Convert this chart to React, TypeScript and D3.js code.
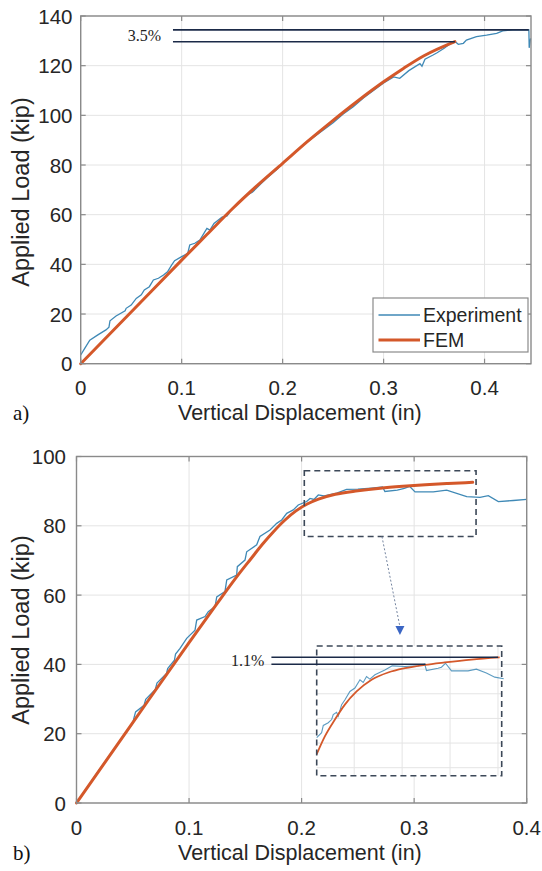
import React from 'react';
import * as d3 from 'd3';

type P = [number, number];

// ---------- ticks ----------
const xTicksA = [0, 0.1, 0.2, 0.3, 0.4];
const yTicksA = [0, 20, 40, 60, 80, 100, 120, 140];
const xTicksB = [0, 0.1, 0.2, 0.3, 0.4];
const yTicksB = [0, 20, 40, 60, 80, 100];
const insetXTicks = [0.22, 0.26, 0.3, 0.34];
const insetYTicks = [84, 86, 88, 90, 92];

// ---------- chart a) ----------
const expA: P[] = [
  [0, 3.5], [0.004, 6.2], [0.009, 9.5], [0.017, 11.6], [0.025, 13.6], [0.028, 14.7], [0.029, 17.3],
  [0.035, 19.2], [0.044, 21.3], [0.045, 22.3], [0.05, 23.6], [0.055, 26.3], [0.06, 27.7], [0.063, 29.7],
  [0.068, 31], [0.072, 33.7], [0.077, 34.4], [0.082, 35.7], [0.086, 37], [0.09, 39.7], [0.093, 41.5],
  [0.1, 43.1], [0.106, 44.4], [0.108, 47.8], [0.113, 48.5], [0.118, 49.8], [0.125, 54.5], [0.128, 53.8],
  [0.132, 56.5], [0.14, 59], [0.145, 59.5], [0.15, 62.5], [0.157, 65], [0.165, 68], [0.17, 69],
  [0.18, 73], [0.185, 75], [0.195, 78.5], [0.2, 80.7], [0.21, 84.2], [0.22, 88], [0.225, 89.5],
  [0.235, 92.5], [0.245, 95.5], [0.25, 97], [0.26, 100.5], [0.27, 103.5], [0.28, 107], [0.29, 110],
  [0.3, 113], [0.31, 115.5], [0.316, 114.9], [0.325, 118], [0.336, 120.8], [0.338, 119.8], [0.341, 122.6],
  [0.349, 124.3], [0.353, 125.2], [0.36, 127], [0.366, 128.8], [0.371, 129.6], [0.374, 128.6], [0.379, 129],
  [0.382, 130.3], [0.392, 131.7], [0.402, 132.3], [0.412, 133], [0.418, 134], [0.428, 134.4],
  [0.4439, 134.4], [0.4442, 127.2], [0.4456, 131],
];
const femA: P[] = [
  [0, 0], [0.05, 20.8], [0.1, 41.7], [0.125, 52], [0.15, 62.3], [0.175, 71.8], [0.2, 80.7],
  [0.225, 89.6], [0.25, 98], [0.275, 106], [0.3, 113.5], [0.32, 119], [0.34, 124], [0.3706, 129.7],
];
const annotAY = [134.4, 129.65];
const annotAXEnd = [0.4438, 0.3706];
const annotAXStart = 0.0914;
const annotALabel = '3.5%';
const legendLabels = ['Experiment', 'FEM'];

// ---------- chart b) ----------
const expB: P[] = [
  [0, 0], [0.02, 9.5], [0.03, 14], [0.04, 18.5], [0.05, 23], [0.051, 24.5], [0.0525, 26.3], [0.06, 28.2],
  [0.0615, 29.9], [0.07, 32.8], [0.0715, 34.6], [0.08, 37.4], [0.081, 38.8], [0.087, 41.2], [0.088, 43],
  [0.092, 44.6], [0.0979, 47.5], [0.1053, 49.9], [0.1068, 52.8], [0.1142, 53.8], [0.1171, 55.2],
  [0.1231, 56.7], [0.1246, 59.5], [0.1319, 61], [0.1335, 64.4], [0.1423, 65.8], [0.1429, 68.2],
  [0.1497, 70.1], [0.1512, 72.5], [0.1601, 74.5], [0.163, 76.9], [0.1719, 78.8], [0.1779, 80.7],
  [0.1823, 81.7], [0.1868, 83.6], [0.1926, 84.6], [0.197, 86], [0.2045, 87], [0.2075, 87.9],
  [0.211, 87.6], [0.2148, 88.9], [0.22, 88.6], [0.2312, 89.4], [0.24, 90.5], [0.25, 90.6],
  [0.262, 90.9], [0.272, 91.2], [0.274, 89.9], [0.285, 90.3], [0.2913, 90.8], [0.2959, 91.4],
  [0.3008, 89.8], [0.317, 89.8], [0.3289, 90.3], [0.3467, 88.4], [0.3585, 88.2], [0.3659, 88.7],
  [0.3748, 87], [0.3881, 87.3], [0.4, 87.6],
];
const femB: P[] = [
  [0, 0], [0.05, 23.2], [0.1, 46.3], [0.125, 57.6], [0.145, 66.4], [0.155, 70.5], [0.165, 74.6],
  [0.175, 78.3], [0.185, 81.6], [0.195, 84.3], [0.205, 86.3], [0.215, 87.7], [0.23, 89.1], [0.25, 90.1],
  [0.27, 90.85], [0.29, 91.4], [0.31, 91.85], [0.33, 92.2], [0.352, 92.55],
];
const zoomBoxX = [0.2024, 0.355];
const zoomBoxY = [76.9, 95.9];
const arrowB: P[] = [[0.2714, 76.9], [0.2874, 48.5]];

// inset (zoomed view of the plateau)
const insetExp: P[] = [
  [0.1887, 86.44], [0.1928, 86.84], [0.1942, 87.43], [0.1983, 87.65], [0.2012, 87.91], [0.2025, 88.31],
  [0.2053, 88.5], [0.2067, 88.18], [0.2095, 89.12], [0.2123, 89.52], [0.2164, 90.19], [0.2206, 90.47],
  [0.2248, 91.14], [0.2275, 90.92], [0.2303, 91.4], [0.2331, 91.19], [0.2373, 91.54], [0.2456, 91.94],
  [0.2517, 92.27], [0.2623, 92.21], [0.2733, 92.27], [0.2789, 92.4], [0.2803, 91.89], [0.29, 92.08],
  [0.2928, 92.16], [0.2962, 92.48], [0.3012, 91.86], [0.315, 91.86], [0.322, 92.0], [0.3303, 91.68],
  [0.3373, 91.35], [0.3448, 91.22],
];
const insetFem: P[] = [
  [0.1887, 85.09], [0.1956, 86.56], [0.2039, 87.91], [0.2122, 89.12], [0.222, 90.19], [0.2345, 91.14],
  [0.2483, 91.73], [0.2623, 92.08], [0.2789, 92.35], [0.2956, 92.55], [0.3178, 92.78], [0.3414, 92.95],
];
const insetDomX = [0.1887, 0.3431];
const insetDomY = [83.35, 93.88];
const annotBY = [92.97, 92.4];
const annotBXEnd = [0.34, 0.2795];
const annotBXStart = 0.1509;
const annotBLabel = '1.1%';

// ---------- styling ----------
const SANS = "'Liberation Sans', Arial, Helvetica, sans-serif";
const SERIF = "'Liberation Serif', 'Times New Roman', serif";
const EXP = '#3f89b6';
const FEM = '#d4582a';
const GRID = '#e4e4e4';
const FRAME = '#8a8a8a';
const TXT = '#262626';
const NAVY = '#1b2a48';

const xA = d3.scaleLinear().domain([0, 0.446]).range([80.7, 531]);
const yA = d3.scaleLinear().domain([0, 140]).range([363.7, 16]);
const xB = d3.scaleLinear().domain([0, 0.4]).range([76.5, 526.7]);
const yB = d3.scaleLinear().domain([0, 100]).range([803, 456.5]);
const xI = d3.scaleLinear().domain(insetDomX).range([316.7, 501.7]);
const yI = d3.scaleLinear().domain(insetDomY).range([775.7, 646]);

function mkLine(x: any, y: any, smooth = false) {
  const l = d3.line<P>().x(d => x(d[0])).y(d => y(d[1]));
  return smooth ? l.curve(d3.curveMonotoneX) : l;
}

function Grid({ x, y, xt, yt }: any) {
  const [x0, x1] = x.range();
  const [y0, y1] = y.range();
  return (
    <g>
      {xt.map((t: number) => (
        <line key={'gx' + t} x1={x(t)} x2={x(t)} y1={y0} y2={y1} stroke={GRID} strokeWidth={1} />
      ))}
      {yt.map((t: number) => (
        <line key={'gy' + t} x1={x0} x2={x1} y1={y(t)} y2={y(t)} stroke={GRID} strokeWidth={1} />
      ))}
    </g>
  );
}

function Frame({ x, y, xt, yt, labelRight, xLabelY, titleY, tag, ylabCenterY }: any) {
  const [x0, x1] = x.range();
  const [y0, y1] = y.range();
  const tl = 5;
  return (
    <g>
      <rect x={x0} y={y1} width={x1 - x0} height={y0 - y1} fill="none" stroke={FRAME} strokeWidth={1.4} />
      {xt.map((t: number) => (
        <g key={'tx' + t}>
          <line x1={x(t)} x2={x(t)} y1={y0} y2={y0 - tl} stroke={FRAME} strokeWidth={1.2} />
          <line x1={x(t)} x2={x(t)} y1={y1} y2={y1 + tl} stroke={FRAME} strokeWidth={1.2} />
          <text x={x(t)} y={xLabelY} textAnchor="middle" dominantBaseline="central" fontFamily={SANS} fontSize={20.5} fill={TXT}>{String(t)}</text>
        </g>
      ))}
      {yt.map((t: number) => (
        <g key={'ty' + t}>
          <line x1={x0} x2={x0 + tl} y1={y(t)} y2={y(t)} stroke={FRAME} strokeWidth={1.2} />
          <line x1={x1} x2={x1 - tl} y1={y(t)} y2={y(t)} stroke={FRAME} strokeWidth={1.2} />
          <text x={labelRight} y={y(t)} textAnchor="end" dominantBaseline="central" fontFamily={SANS} fontSize={20.5} fill={TXT}>{String(t)}</text>
        </g>
      ))}
      <text x={178} y={titleY} textAnchor="start" fontFamily={SANS} fontSize={21.5} fill={TXT}>Vertical Displacement (in)</text>
      <text transform={`translate(29,${ylabCenterY}) rotate(-90)`} textAnchor="middle" fontFamily={SANS} fontSize={23.5} fill={TXT}>Applied Load (kip)</text>
      <text x={13} y={titleY} fontFamily={SERIF} fontSize={21} fill="#111">{tag}</text>
    </g>
  );
}

export default function App() {
  const lA = mkLine(xA, yA);
  const lAs = mkLine(xA, yA, true);
  const lB = mkLine(xB, yB);
  const lBs = mkLine(xB, yB, true);
  const lI = mkLine(xI, yI);
  const lIs = mkLine(xI, yI, true);

  const [ix0, ix1] = xI.range();
  const [iy0, iy1] = yI.range();

  const aStart: P = [xB(arrowB[0][0]), yB(arrowB[0][1])];
  const aEnd: P = [xB(arrowB[1][0]), yB(arrowB[1][1])];

  return (
    <svg width={542} height={871} style={{ position: 'absolute', left: 0, top: 0, background: '#fff' }}>
      <rect x={0} y={0} width={542} height={871} fill="#fff" />

      {/* ---------- a) ---------- */}
      <Grid x={xA} y={yA} xt={xTicksA} yt={yTicksA} />
      <path d={lA(expA) || ''} fill="none" stroke={EXP} strokeWidth={1.3} />
      <path d={lAs(femA) || ''} fill="none" stroke={FEM} strokeWidth={3} strokeLinecap="round" />
      <Frame x={xA} y={yA} xt={xTicksA} yt={yTicksA} labelRight={72.5} xLabelY={387.5} titleY={420} tag="a)" ylabCenterY={192} />
      {annotAY.map((v, i) => (
        <line key={'aa' + i} x1={xA(annotAXStart)} x2={xA(annotAXEnd[i])} y1={yA(v)} y2={yA(v)} stroke={NAVY} strokeWidth={1.6} />
      ))}
      <text x={xA(annotAXStart) - 12} y={(yA(annotAY[0]) + yA(annotAY[1])) / 2 + 5.5} textAnchor="end" fontFamily={SERIF} fontSize={16} fill="#222">{annotALabel}</text>
      {/* legend */}
      <g>
        <rect x={373} y={298} width={155} height={54} fill="#fff" stroke="#8a8a8a" strokeWidth={1.2} />
        <line x1={378.5} x2={420} y1={315} y2={315} stroke={EXP} strokeWidth={1.3} />
        <line x1={378.5} x2={420} y1={340} y2={340} stroke={FEM} strokeWidth={3} />
        <text x={423} y={315} dominantBaseline="central" fontFamily={SANS} fontSize={19.5} fill={TXT}>{legendLabels[0]}</text>
        <text x={423} y={340} dominantBaseline="central" fontFamily={SANS} fontSize={19.5} fill={TXT}>{legendLabels[1]}</text>
      </g>

      {/* ---------- b) ---------- */}
      <Grid x={xB} y={yB} xt={xTicksB} yt={yTicksB} />
      <path d={lB(expB) || ''} fill="none" stroke={EXP} strokeWidth={1.3} />
      <path d={lBs(femB) || ''} fill="none" stroke={FEM} strokeWidth={3} strokeLinecap="round" />
      <Frame x={xB} y={yB} xt={xTicksB} yt={yTicksB} labelRight={66} xLabelY={827} titleY={859.5} tag="b)" ylabCenterY={630} />

      {/* zoom box */}
      <rect x={xB(zoomBoxX[0])} y={yB(zoomBoxY[1])} width={xB(zoomBoxX[1]) - xB(zoomBoxX[0])} height={yB(zoomBoxY[0]) - yB(zoomBoxY[1])}
        fill="none" stroke="#3c4858" strokeWidth={1.6} strokeDasharray="6 4" />
      {/* arrow */}
      <line x1={aStart[0]} y1={aStart[1]} x2={aEnd[0]} y2={aEnd[1] - 8} stroke="#7585a0" strokeWidth={1} strokeDasharray="2 2" />
      <path d={`M${aEnd[0]},${aEnd[1]} L${aEnd[0] - 4.5},${aEnd[1] - 9} L${aEnd[0] + 4.5},${aEnd[1] - 9} Z`} fill="#3b66c4" />

      {/* inset */}
      <rect x={ix0} y={iy1} width={ix1 - ix0} height={iy0 - iy1} fill="#fff" />
      {insetXTicks.map(t => (
        <line key={'ix' + t} x1={xI(t)} x2={xI(t)} y1={iy0} y2={iy1} stroke={GRID} strokeWidth={1} />
      ))}
      {insetYTicks.map(t => (
        <line key={'iy' + t} x1={ix0} x2={ix1} y1={yI(t)} y2={yI(t)} stroke={GRID} strokeWidth={1} />
      ))}
      <path d={lI(insetExp) || ''} fill="none" stroke={EXP} strokeWidth={1.1} opacity={0.85} />
      <path d={lIs(insetFem) || ''} fill="none" stroke={FEM} strokeWidth={1.8} />
      <rect x={ix0} y={iy1} width={ix1 - ix0} height={iy0 - iy1} fill="none" stroke="#3c4858" strokeWidth={1.6} strokeDasharray="6 4" />
      {annotBY.map((v, i) => (
        <line key={'ab' + i} x1={xI(annotBXStart)} x2={xI(annotBXEnd[i])} y1={yI(v)} y2={yI(v)} stroke={NAVY} strokeWidth={1.6} />
      ))}
      <text x={xI(annotBXStart) - 7} y={(yI(annotBY[0]) + yI(annotBY[1])) / 2 + 5.5} textAnchor="end" fontFamily={SERIF} fontSize={16} fill="#222">{annotBLabel}</text>
    </svg>
  );
}
